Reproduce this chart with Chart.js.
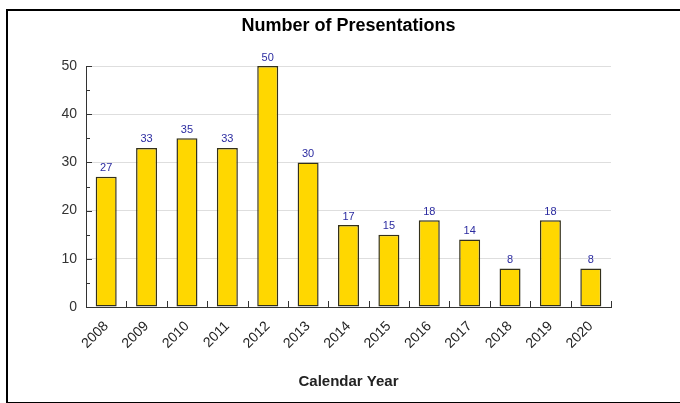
<!DOCTYPE html>
<html>
<head>
<meta charset="utf-8">
<script src="https://cdn.jsdelivr.net/npm/chart.js@4/dist/chart.umd.min.js"></script>
<style>
  html, body { margin: 0; padding: 0; background: #fff; }
  #wrap { position: relative; width: 680px; height: 403px; overflow: hidden; }
  #frame { position: absolute; left: 6px; top: 9px; width: 700px; height: 391px; border: 2px solid #000; }
  canvas { position: absolute; left: 0; top: 0; }
</style>
</head>
<body>
<div id="wrap">
  <div id="frame"></div>
  <canvas id="chart" width="680" height="403"></canvas>
</div>
<script>
// chart data
const years = ['2008', '2009', '2010', '2011', '2012', '2013', '2014', '2015', '2016', '2017', '2018', '2019', '2020'];
const presentations = [27, 33, 35, 33, 50, 30, 17, 15, 18, 14, 8, 18, 8];
const yTicks = [0, 10, 20, 30, 40, 50];

// value labels over bars + inward tick marks
const extras = {
    id: 'extras',
    afterDatasetsDraw(chart) {
        const ctx = chart.ctx;
        const meta = chart.getDatasetMeta(0);
        ctx.save();
        ctx.font = '11px Arial, "Liberation Sans", sans-serif';
        ctx.fillStyle = '#2b2ba0';
        ctx.textAlign = 'center';
        ctx.textBaseline = 'bottom';
        meta.data.forEach((bar, i) => {
            ctx.fillText(presentations[i], bar.x, bar.y - 3);
        });
        ctx.restore();
    },
    afterDraw(chart) {
        const ctx = chart.ctx;
        const x = chart.scales.x;
        const y = chart.scales.y;
        const area = chart.chartArea;
        ctx.save();
        ctx.strokeStyle = '#333';
        ctx.lineWidth = 1;
        ctx.beginPath();
        for (let v = 0; v <= 50; v += 5) {
            const py = Math.round(y.getPixelForValue(v)) + 0.5;
            const len = v % 10 === 0 ? 6 : 4;
            ctx.moveTo(area.left, py);
            ctx.lineTo(area.left + len, py);
        }
        for (let i = 0; i <= years.length; i++) {
            const px = Math.round(x.getPixelForValue(i - 0.5)) + 0.5;
            ctx.moveTo(px, area.bottom);
            ctx.lineTo(px, area.bottom - 6);
        }
        ctx.stroke();
        ctx.restore();
    }
};

const ctx = document.getElementById('chart').getContext('2d');
const presChart = new Chart(ctx, {
    type: 'bar',
    data: {
        labels: years,
        datasets: [{
            data: presentations,
            backgroundColor: '#FFD700',
            borderColor: '#33301a',
            borderWidth: 1.5,
            borderSkipped: false,
            categoryPercentage: 1,
            barPercentage: 0.52
        }]
    },
    options: {
        responsive: false,
        animation: false,
        layout: { padding: { left: 0, right: 69, top: 0, bottom: 0 } },
        plugins: {
            legend: { display: false },
            tooltip: { enabled: false },
            title: {
                display: true,
                fullSize: false,
                text: 'Number of Presentations',
                color: '#000',
                font: { family: 'Arial, "Liberation Sans", sans-serif', size: 18, weight: 'bold' },
                padding: { top: 15, bottom: 29.4 }
            }
        },
        scales: {
            x: {
                grid: { display: false },
                border: { display: true, color: '#333', width: 1 },
                ticks: {
                    color: '#222',
                    font: { family: 'Arial, "Liberation Sans", sans-serif', size: 14 },
                    minRotation: 45,
                    maxRotation: 45,
                    padding: 3
                },
                title: {
                    display: true,
                    text: 'Calendar Year',
                    color: '#222',
                    font: { family: 'Arial, "Liberation Sans", sans-serif', size: 15, weight: 'bold' },
                    padding: { top: 0, bottom: 12 }
                },
                afterFit(scale) { scale.height = 96; }
            },
            y: {
                min: 0,
                max: 50,
                afterBuildTicks(scale) { scale.ticks = yTicks.map(v => ({ value: v })); },
                grid: { color: '#dedede', drawTicks: false },
                border: { display: true, color: '#333', width: 1 },
                ticks: {
                    color: '#333',
                    font: { family: 'Arial, "Liberation Sans", sans-serif', size: 14 },
                    padding: 9
                },
                afterFit(scale) { scale.width = 86; }
            }
        }
    },
    plugins: [extras]
});
</script>
</body>
</html>
